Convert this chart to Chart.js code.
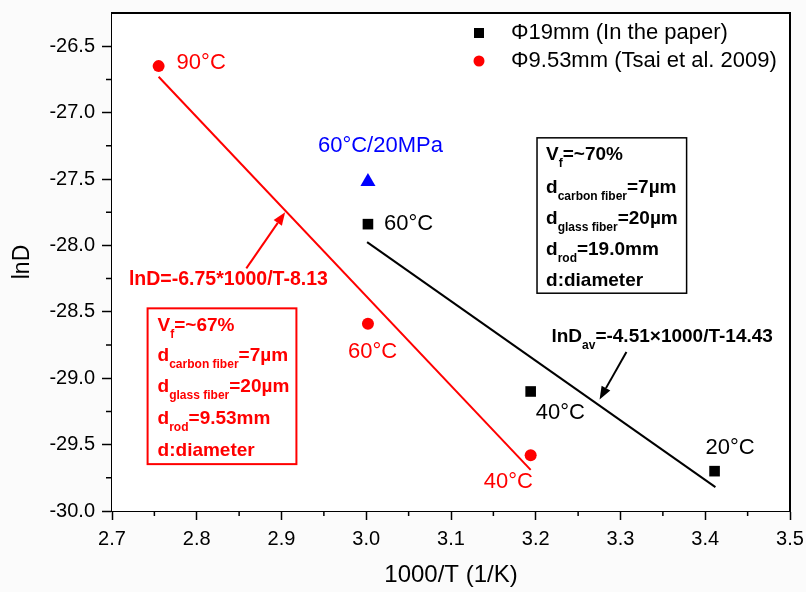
<!DOCTYPE html>
<html>
<head>
<meta charset="utf-8">
<script src="https://cdn.jsdelivr.net/npm/chart.js@4"></script>
<style>
  body { margin: 0; background: #fbfbfb; }
  #chart { display: block; }
</style>
</head>
<body>
<canvas id="chart" width="806" height="592"></canvas>
<script>
// axis ranges
const xMin = 2.7, xMax = 3.5, xStep = 0.1;
const yMin = -30.0, yMax = -26.25, yStep = 0.5;

// Φ19mm (In the paper)
const paperX = [3.002, 3.194, 3.411];
const paperY = [-27.84, -29.10, -29.70];
const paperTemps = ['60°C', '40°C', '20°C'];

// Φ9.53mm (Tsai et al. 2009)
const tsaiX = [2.755, 3.002, 3.194];
const tsaiY = [-26.65, -28.59, -29.58];
const tsaiTemps = ['90°C', '60°C', '40°C'];

// 60°C / 20MPa point
const pressX = [3.002];
const pressY = [-27.52];
const pressTemps = ['60°C/20MPa'];

// fitted lines (end points)
const tsaiFitX = [2.755, 3.194];
const tsaiFitY = [-26.73, -29.69];
const paperFitX = [3.001, 3.412];
const paperFitY = [-27.975, -29.82];

const FONT = "'Liberation Sans', Arial, sans-serif";
const RED = '#ff0000';
const BLUE = '#0000ff';

function toPoints(xs, ys) {
    return xs.map((x, i) => ({ x: x, y: ys[i] }));
}

// label offsets in px from the point
const labelOffsets = {
    paper: [[16, 0], [5, 21], [-9, -23]],
    tsai: [[18, -3], [-20, 28], [-47, 27]],
    press: [[-50, -36]]
};

function drawRuns(ctx, x, y, runs, color, size) {
    size = size || 19;
    ctx.fillStyle = color;
    ctx.textBaseline = 'middle';
    ctx.textAlign = 'left';
    let cx = x;
    runs.forEach(r => {
        const sub = r[1];
        ctx.font = sub ? `bold 12px ${FONT}` : `bold ${size}px ${FONT}`;
        ctx.fillText(r[0], cx, sub ? y + 9 : y);
        cx += ctx.measureText(r[0]).width;
    });
}

function drawArrow(ctx, x1, y1, x2, y2, color) {
    const ang = Math.atan2(y2 - y1, x2 - x1);
    const len = 13, half = 5;
    ctx.strokeStyle = color;
    ctx.fillStyle = color;
    ctx.lineWidth = 2;
    ctx.beginPath();
    ctx.moveTo(x1, y1);
    ctx.lineTo(x2 - Math.cos(ang) * len, y2 - Math.sin(ang) * len);
    ctx.stroke();
    ctx.beginPath();
    ctx.moveTo(x2, y2);
    ctx.lineTo(x2 - Math.cos(ang) * len - Math.sin(ang) * half, y2 - Math.sin(ang) * len + Math.cos(ang) * half);
    ctx.lineTo(x2 - Math.cos(ang) * len + Math.sin(ang) * half, y2 - Math.sin(ang) * len - Math.cos(ang) * half);
    ctx.closePath();
    ctx.fill();
}

const decorPlugin = {
    id: 'decor',
    beforeDatasetsDraw(chart) {
        const { ctx, chartArea: a } = chart;
        ctx.save();
        ctx.fillStyle = '#ffffff';
        ctx.fillRect(a.left, a.top, a.right - a.left, a.bottom - a.top);
        ctx.restore();
    },
    afterDraw(chart) {
        const { ctx, chartArea: a } = chart;
        const xs = chart.scales.x, ys = chart.scales.y;
        const px = v => xs.getPixelForValue(v);
        const py = v => ys.getPixelForValue(v);
        ctx.save();

        // frame top + right
        ctx.strokeStyle = '#000';
        ctx.lineWidth = 2;
        ctx.beginPath();
        ctx.moveTo(a.left, a.top);
        ctx.lineTo(a.right, a.top);
        ctx.lineTo(a.right, a.bottom);
        ctx.stroke();

        // minor ticks
        ctx.lineWidth = 1.5;
        ctx.beginPath();
        for (let v = xMin + xStep / 2; v < xMax; v += xStep) {
            ctx.moveTo(px(v), a.bottom);
            ctx.lineTo(px(v), a.bottom + 5);
        }
        for (let v = yMin + yStep / 2; v < yMax; v += yStep) {
            ctx.moveTo(a.left, py(v));
            ctx.lineTo(a.left - 6, py(v));
        }
        ctx.stroke();

        // point labels
        ctx.font = `22px ${FONT}`;
        ctx.textBaseline = 'middle';
        ctx.textAlign = 'left';
        const groups = [
            [paperX, paperY, paperTemps, labelOffsets.paper, '#000'],
            [tsaiX, tsaiY, tsaiTemps, labelOffsets.tsai, RED],
            [pressX, pressY, pressTemps, labelOffsets.press, BLUE]
        ];
        groups.forEach(g => {
            ctx.fillStyle = g[4];
            g[2].forEach((t, i) => {
                ctx.fillText(t, px(g[0][i]) + g[3][i][0], py(g[1][i]) + g[3][i][1]);
            });
        });

        // red info box
        ctx.strokeStyle = RED;
        ctx.lineWidth = 2;
        ctx.strokeRect(px(2.742), py(-28.474), px(2.9176) - px(2.742), py(-29.647) - py(-28.474));
        const rl = px(2.742) + 10, rt = py(-28.474);
        drawRuns(ctx, rl, rt + 17, [['V', 0], ['f', 1], ['=~67%', 0]], RED);
        drawRuns(ctx, rl, rt + 47, [['d', 0], ['carbon fiber', 1], ['=7µm', 0]], RED);
        drawRuns(ctx, rl, rt + 78, [['d', 0], ['glass fiber', 1], ['=20µm', 0]], RED);
        drawRuns(ctx, rl, rt + 110, [['d', 0], ['rod', 1], ['=9.53mm', 0]], RED);
        drawRuns(ctx, rl, rt + 142, [['d:diameter', 0]], RED);

        // black info box
        ctx.strokeStyle = '#000';
        ctx.lineWidth = 1.5;
        ctx.strokeRect(px(3.2015), py(-27.19), px(3.378) - px(3.2015), py(-28.36) - py(-27.19));
        const bl = px(3.2015) + 9, bt = py(-27.19);
        drawRuns(ctx, bl, bt + 17, [['V', 0], ['f', 1], ['=~70%', 0]], '#000');
        drawRuns(ctx, bl, bt + 50, [['d', 0], ['carbon fiber', 1], ['=7µm', 0]], '#000');
        drawRuns(ctx, bl, bt + 81, [['d', 0], ['glass fiber', 1], ['=20µm', 0]], '#000');
        drawRuns(ctx, bl, bt + 112, [['d', 0], ['rod', 1], ['=19.0mm', 0]], '#000');
        drawRuns(ctx, bl, bt + 143, [['d:diameter', 0]], '#000');

        // equations + arrows
        drawRuns(ctx, px(2.72), py(-28.256), [['lnD=-6.75*1000/T-8.13', 0]], RED, 19.5);
        drawArrow(ctx, px(2.8585), py(-28.173), px(2.9043), py(-27.75), RED);
        drawRuns(ctx, px(3.2185), py(-28.689), [['lnD', 0], ['av', 1], ['=-4.51×1000/T-14.43', 0]], '#000');
        drawArrow(ctx, px(3.307), py(-28.802), px(3.2753), py(-29.16), '#000');

        // legend
        const lx = a.right - 311;
        ctx.fillStyle = '#000';
        ctx.fillRect(lx - 5, a.top + 15, 10, 10);
        ctx.fillStyle = RED;
        ctx.beginPath();
        ctx.arc(lx, a.top + 48, 5.5, 0, Math.PI * 2);
        ctx.fill();
        ctx.font = `22px ${FONT}`;
        ctx.fillStyle = '#000';
        ctx.textBaseline = 'middle';
        ctx.fillText('Φ19mm (In the paper)', lx + 32, a.top + 20);
        ctx.fillText('Φ9.53mm (Tsai et al. 2009)', lx + 32, a.top + 48);

        ctx.restore();
    }
};

Chart.defaults.font.family = FONT;
Chart.defaults.color = '#000';

new Chart(document.getElementById('chart'), {
    type: 'scatter',
    data: {
        datasets: [
            {
                label: 'Φ19mm (In the paper)',
                data: toPoints(paperX, paperY),
                pointStyle: 'rect',
                pointRadius: 7.5,
                backgroundColor: '#000',
                borderWidth: 0
            },
            {
                label: 'Φ9.53mm (Tsai et al. 2009)',
                data: toPoints(tsaiX, tsaiY),
                pointStyle: 'circle',
                pointRadius: 6,
                backgroundColor: RED,
                borderWidth: 0
            },
            {
                label: '60°C/20MPa',
                data: toPoints(pressX, pressY),
                pointStyle: 'triangle',
                pointRadius: 8.7,
                backgroundColor: BLUE,
                borderWidth: 0
            },
            {
                label: 'Tsai fit',
                data: toPoints(tsaiFitX, tsaiFitY),
                showLine: true,
                pointRadius: 0,
                borderColor: RED,
                borderWidth: 2
            },
            {
                label: 'Paper fit',
                data: toPoints(paperFitX, paperFitY),
                showLine: true,
                pointRadius: 0,
                borderColor: '#000',
                borderWidth: 2
            }
        ]
    },
    options: {
        responsive: false,
        animation: false,
        layout: { padding: { top: 13, right: 16, left: 0, bottom: 0 } },
        plugins: {
            legend: { display: false },
            tooltip: { enabled: false }
        },
        scales: {
            x: {
                type: 'linear',
                min: xMin,
                max: xMax,
                afterFit: s => { s.height = 81; s.paddingLeft = 0; s.paddingRight = 0; },
                ticks: {
                    stepSize: xStep,
                    padding: 7,
                    color: '#000',
                    font: { size: 20 },
                    callback: v => v.toFixed(1)
                },
                grid: { drawOnChartArea: false, tickLength: 9, tickColor: '#000', tickWidth: 1.5 },
                border: { color: '#000', width: 2 },
                title: { display: true, text: '1000/T (1/K)', font: { size: 24 }, color: '#000', padding: { top: 0, bottom: 2 } }
            },
            y: {
                type: 'linear',
                min: yMin,
                max: yMax,
                afterFit: s => { s.width = 112; s.paddingTop = 0; s.paddingBottom = 0; },
                ticks: {
                    stepSize: yStep,
                    includeBounds: false,
                    padding: 7,
                    color: '#000',
                    font: { size: 20 },
                    callback: v => v.toFixed(1)
                },
                grid: { drawOnChartArea: false, tickLength: 10, tickColor: '#000', tickWidth: 1.5 },
                border: { color: '#000', width: 2 },
                title: { display: true, text: 'lnD', font: { size: 23 }, color: '#000', padding: { top: 9, bottom: 0 } }
            }
        }
    },
    plugins: [decorPlugin]
});
</script>
</body>
</html>
